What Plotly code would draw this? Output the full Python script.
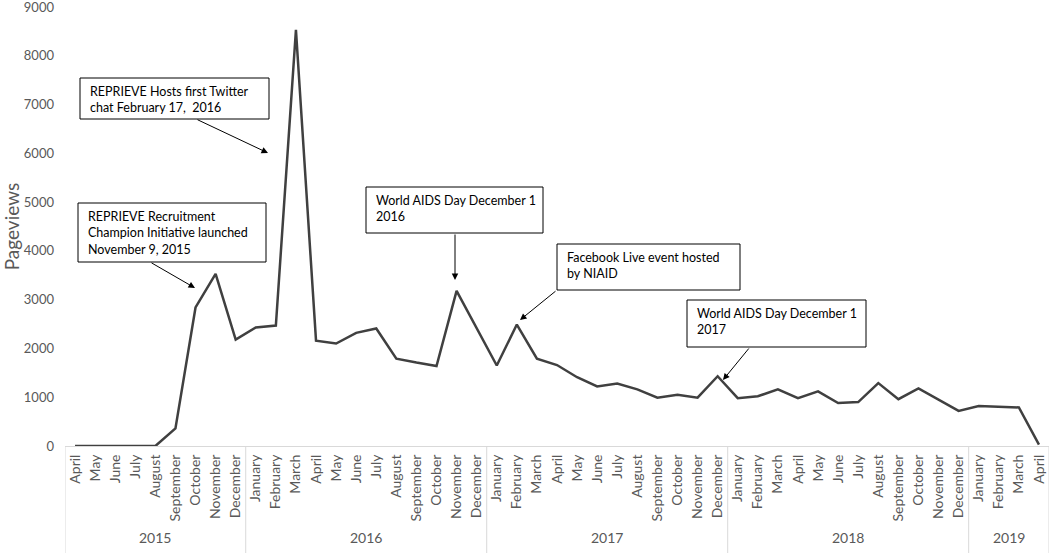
import plotly.graph_objects as go

# months shown on the axis, grouped by year
months_2015 = ["April", "May", "June", "July", "August", "September",
               "October", "November", "December"]
months_full = ["January", "February", "March", "April", "May", "June", "July",
               "August", "September", "October", "November", "December"]
months_2019 = ["January", "February", "March", "April"]

year_labels = ["2015", "2016", "2017", "2018", "2019"]
year_months = [months_2015, months_full, months_full, months_full, months_2019]

pageviews = [
    0, 0, 0, 0, 0, 360, 2840, 3530, 2180,                                 # 2015
    2430, 2470, 8530, 2160, 2100, 2320, 2410, 1790, 1710, 1640, 3180, 2420,  # 2016
    1650, 2490, 1790, 1660, 1410, 1220, 1280, 1160, 990, 1050, 990, 1430,   # 2017
    980, 1020, 1160, 980, 1120, 880, 900, 1290, 960, 1180, 950, 720,        # 2018
    820, 800, 790, 30,                                                     # 2019
]

event_texts = [
    "REPRIEVE Hosts first Twitter<br>chat February 17,  2016",
    "REPRIEVE Recruitment<br>Champion Initiative launched<br>November 9, 2015",
    "World AIDS Day December 1<br>2016",
    "Facebook Live event hosted<br>by NIAID",
    "World AIDS Day December 1<br>2017",
]

x_keys = [f"{m} {y}" for y, ms in zip(year_labels, year_months) for m in ms]
x_months = [m for ms in year_months for m in ms]

W, H = 1050, 553
L, R, T, B = 65, 1, 7, 107
PW, PH = W - L - R, H - T - B


def px(x):
    return (x - L) / PW


def py(y):
    return (H - B - y) / PH


fig = go.Figure()
fig.add_trace(go.Scatter(
    x=x_keys,
    y=pageviews,
    mode="lines",
    line=dict(color="#404040", width=2.5),
    hovertemplate="%{x}: %{y}<extra></extra>",
))

# year group labels and dividers under the month labels
start = 0
bounds = [-0.5]
for yr, ms in zip(year_labels, year_months):
    mid = start + (len(ms) - 1) / 2
    fig.add_annotation(text=yr, x=mid, xref="x", y=py(537), yref="paper",
                       yanchor="middle", showarrow=False,
                       font=dict(size=14, color="#595959"))
    start += len(ms)
    bounds.append(start - 0.5)
for b in bounds:
    fig.add_shape(type="line", xref="x", yref="paper", x0=b, x1=b,
                  y0=0, y1=py(H), line=dict(color="#d9d9d9", width=1))

# callout boxes (pixel boxes: left, top, right, bottom)
boxes = [(80, 78, 269, 119), (78, 203, 266, 262), (366, 187, 543, 233),
         (557, 244, 740, 290), (687, 300, 866, 347)]
# arrows: head -> tail in pixels
arrows = [((268, 153), (196, 119)), ((195, 288), (150, 262)),
          ((455, 280), (455, 233)), ((520, 320), (557, 290)),
          ((723, 380), (750, 347))]

for (x0, y0, x1, y1), txt in zip(boxes, event_texts):
    fig.add_shape(type="rect", xref="paper", yref="paper",
                  x0=px(x0), x1=px(x1), y0=py(y1), y1=py(y0),
                  line=dict(color="black", width=1), fillcolor="white")
    fig.add_annotation(text=txt, xref="paper", yref="paper",
                       x=px(x0 + 8), y=py(y0 + 4), xanchor="left", yanchor="top",
                       align="left", showarrow=False,
                       font=dict(size=12.5, color="black"))

for (hx, hy), (tx, ty) in arrows:
    fig.add_annotation(text="", xref="paper", yref="paper",
                       x=px(hx), y=py(hy), ax=tx - hx, ay=ty - hy,
                       showarrow=True, arrowhead=2, arrowsize=1.3,
                       arrowwidth=1, arrowcolor="black", standoff=0)

fig.update_layout(
    width=W, height=H,
    margin=dict(l=L, r=R, t=T, b=B),
    paper_bgcolor="white", plot_bgcolor="white",
    font=dict(family="Lato, Arial, sans-serif", color="#595959"),
    showlegend=False,
)
fig.update_xaxes(
    type="category",
    range=[-0.5, len(x_keys) - 0.5],
    tickvals=x_keys, ticktext=x_months,
    tickangle=-90,
    tickfont=dict(size=14, color="#595959"),
    ticklabelstandoff=2,
    showline=True, linecolor="#d9d9d9", linewidth=1,
    showgrid=False, ticks="",
    automargin=False,
)
fig.update_yaxes(
    range=[0, 9000], tickvals=list(range(0, 9001, 1000)),
    showgrid=False, zeroline=False, showline=False,
    tickfont=dict(size=13, color="#595959"),
    ticklabelstandoff=10, ticklabeloverflow="allow",
    title=dict(text="Pageviews", font=dict(size=19, color="#595959"), standoff=6),
    automargin=False,
)

# the page body has a default 8px margin; remove it so the figure fills the window
fig.write_html("out.html", config={"displayModeBar": False},
               post_script="document.body.style.margin = '0';")
